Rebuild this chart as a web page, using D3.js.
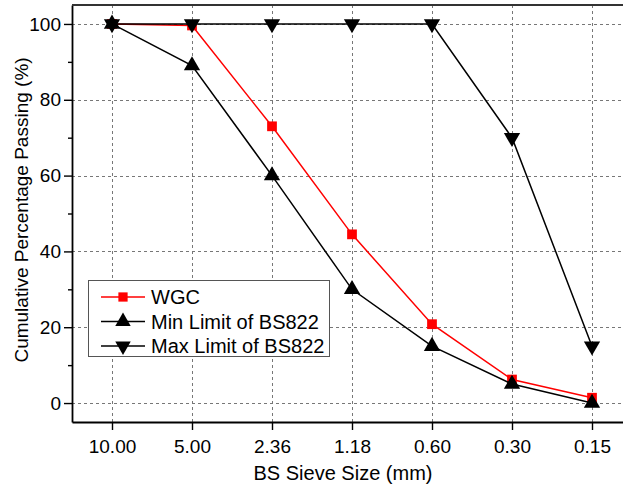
<!DOCTYPE html>
<html>
<head>
<meta charset="utf-8">
<script src="https://cdn.jsdelivr.net/npm/d3@7"></script>
<style>
  html, body { margin: 0; padding: 0; background: #fff; }
  svg { display: block; font-family: Arial, "Liberation Sans", sans-serif; }
</style>
</head>
<body>
<svg id="chart" width="623" height="484"></svg>
<script>
// Sieve sizes (mm), from coarse to fine
const sieveSizes = ["10.00", "5.00", "2.36", "1.18", "0.60", "0.30", "0.15"];
// Cumulative percentage passing (%)
const wgc      = [100, 99.6, 73, 44.5, 20.8, 6.2, 1.4];
const minLimit = [100, 89, 60, 30, 15, 5, 0];
const maxLimit = [100, 100, 100, 100, 100, 70, 15];
const yTicks = [0, 20, 40, 60, 80, 100];
const yMinorTicks = [10, 30, 50, 70, 90];

const series = [
  { name: "WGC", values: wgc, color: "#ff0000", symbol: d3.symbolSquare, rot: 0, size: 95 },
  { name: "Min Limit of BS822", values: minLimit, color: "#000000", symbol: d3.symbolTriangle, rot: 0, size: 115 },
  { name: "Max Limit of BS822", values: maxLimit, color: "#000000", symbol: d3.symbolTriangle, rot: 180, size: 115 }
];

const svg = d3.select("#chart");
const plotLeft = 72, plotRight = 632, plotTop = 5, plotBottom = 422;

const x = d3.scalePoint().domain(sieveSizes).range([plotLeft, plotRight]).padding(0.5);
const y = d3.scaleLinear().domain([-5, 105]).range([plotBottom, plotTop]);

// grid
const grid = svg.append("g").attr("stroke", "#777").attr("stroke-width", 1)
  .attr("stroke-dasharray", "3,3").attr("fill", "none");
grid.selectAll(".gy").data(yTicks).join("line")
  .attr("x1", plotLeft).attr("x2", plotRight)
  .attr("y1", d => Math.round(y(d)) + 0.5).attr("y2", d => Math.round(y(d)) + 0.5);
grid.selectAll(".gx").data(sieveSizes).join("line")
  .attr("y1", plotTop).attr("y2", plotBottom)
  .attr("x1", d => Math.round(x(d)) + 0.5).attr("x2", d => Math.round(x(d)) + 0.5);

// axes
const yAxis = svg.append("g").attr("transform", `translate(${plotLeft},0)`)
  .call(d3.axisLeft(y).tickValues(yTicks).tickSize(8).tickPadding(3).tickSizeOuter(0));
svg.append("g").attr("transform", `translate(${plotLeft},0)`)
  .call(d3.axisLeft(y).tickValues(yMinorTicks).tickSize(4).tickFormat("").tickSizeOuter(0))
  .call(g => g.select(".domain").remove())
  .selectAll("line").attr("stroke", "#000").attr("stroke-width", 1.4);
const xAxis = svg.append("g").attr("transform", `translate(0,${plotBottom})`)
  .call(d3.axisBottom(x).tickSize(8).tickPadding(10).tickSizeOuter(0));

[yAxis, xAxis].forEach(a => {
  a.selectAll("text").attr("font-size", 19).attr("fill", "#000")
    .attr("font-family", "Arial, 'Liberation Sans', sans-serif");
  a.selectAll("line").attr("stroke", "#000").attr("stroke-width", 1.4);
  a.select(".domain").attr("stroke", "#000").attr("stroke-width", 1.8);
});

// frame top and right edges
svg.append("line").attr("x1", plotLeft).attr("x2", plotRight).attr("y1", plotTop).attr("y2", plotTop)
  .attr("stroke", "#333").attr("stroke-width", 2);
svg.append("line").attr("x1", plotRight).attr("x2", plotRight).attr("y1", plotTop).attr("y2", plotBottom)
  .attr("stroke", "#000").attr("stroke-width", 1.5);

// series lines and markers
const line = d3.line().x((d, i) => x(sieveSizes[i])).y(d => y(d));
series.forEach(s => {
  svg.append("path").datum(s.values).attr("d", line)
    .attr("fill", "none").attr("stroke", s.color).attr("stroke-width", 1.5);
  svg.append("g").selectAll("path").data(s.values).join("path")
    .attr("d", d3.symbol().type(s.symbol).size(s.size))
    .attr("transform", (d, i) => `translate(${x(sieveSizes[i])},${y(d)}) rotate(${s.rot})`)
    .attr("fill", s.color);
});

// axis titles
svg.append("text").attr("x", 343).attr("y", 480).attr("text-anchor", "middle")
  .attr("font-size", 20).text("BS Sieve Size (mm)");
svg.append("text").attr("transform", "translate(28,210) rotate(-90)").attr("text-anchor", "middle")
  .attr("font-size", 19).text("Cumulative Percentage Passing (%)");

// legend
const lg = svg.append("g");
lg.append("rect").attr("x", 88.5).attr("y", 280.5).attr("width", 241).attr("height", 76)
  .attr("fill", "#fff").attr("stroke", "#555").attr("stroke-width", 1);
series.forEach((s, i) => {
  const cy = 297 + i * 24.5;
  lg.append("line").attr("x1", 101).attr("x2", 145).attr("y1", cy).attr("y2", cy)
    .attr("stroke", s.color).attr("stroke-width", 1.5);
  lg.append("path").attr("d", d3.symbol().type(s.symbol).size(s.size * 0.9))
    .attr("transform", `translate(123,${cy}) rotate(${s.rot})`).attr("fill", s.color);
  lg.append("text").attr("x", 151).attr("y", cy + 7).attr("font-size", 20).text(s.name);
});
</script>
</body>
</html>
